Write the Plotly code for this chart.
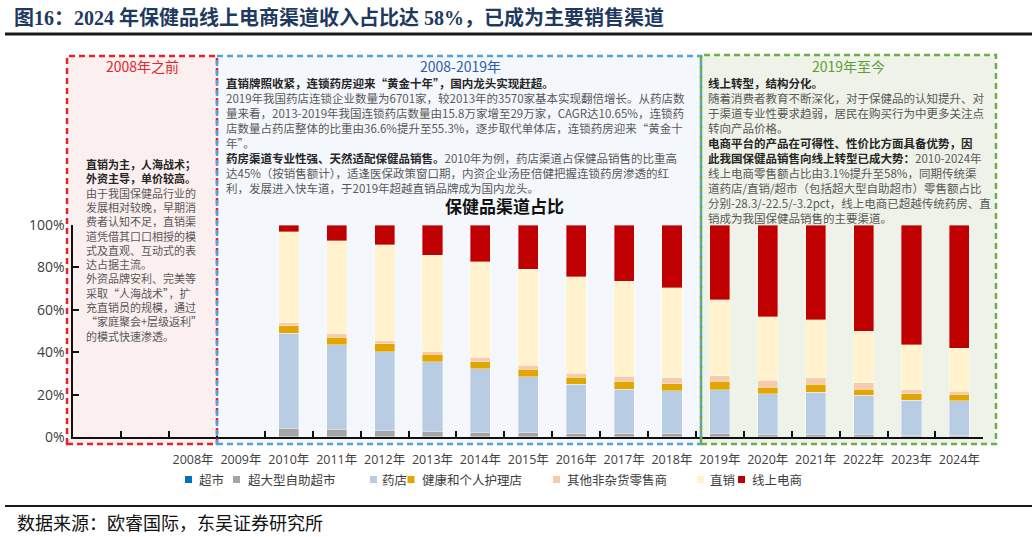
import plotly.graph_objects as go

W, H = 1032, 537
CJK = "Noto Sans CJK SC"
LAT = "Open Sans, Noto Sans CJK SC"

# ---------------- data ----------------
years = ["2010年", "2011年", "2012年", "2013年", "2014年", "2015年", "2016年", "2017年",
         "2018年", "2019年", "2020年", "2021年", "2022年", "2023年", "2024年"]
axis_categories = [" ", "  ", "2008年", "2009年"] + years

supermarket = [0.3, 0.3, 0.3, 0.3, 0.3, 0.3, 0.2, 0.2, 0.2, 0.2, 0.2, 0.2, 0.2, 0.2, 0.2]
hypermarket = [3.9, 3.5, 2.8, 2.5, 1.9, 1.9, 1.4, 1.4, 1.4, 1.4, 0.9, 0.9, 0.9, 0.6, 0.6]
pharmacy = [44.8, 39.8, 37.2, 32.7, 30.1, 26.3, 23.3, 21.1, 20.4, 20.9, 19.5, 20.2, 18.6, 16.7, 16.4]
health_store = [3.6, 3.5, 3.7, 3.6, 3.3, 3.6, 3.4, 3.8, 3.2, 3.8, 3.0, 3.6, 3.0, 3.1, 3.1]
other_retail = [1.4, 1.6, 1.5, 1.2, 2.2, 1.8, 1.8, 2.2, 2.8, 2.8, 3.2, 3.1, 3.0, 1.8, 1.3]
direct_sales = [42.9, 43.8, 45.1, 45.4, 44.9, 45.2, 45.6, 44.7, 42.4, 35.8, 29.9, 27.4, 24.2, 21.1, 20.4]
online = [3.1, 7.5, 9.4, 14.3, 17.3, 20.9, 24.3, 26.6, 29.6, 35.1, 43.3, 44.6, 50.1, 56.5, 58.0]

series_names = ["超市", "超大型自助超市", "药店", "健康和个人护理店", "其他非杂货零售商", "直销", "线上电商"]
series_values = [supermarket, hypermarket, pharmacy, health_store, other_retail, direct_sales, online]
series_colors = ["#0070C0", "#A5A5A5", "#B8CCE4", "#E3A600", "#F8CBAD", "#FFF2CC", "#C00000"]

y_tickvals = [0, 20, 40, 60, 80, 100]
y_ticktext = ["0%", "20%", "40%", "60%", "80%", "100%"]


def px(x):
    return x / W


def py(y):
    return 1 - y / H


fig = go.Figure()

# register every category (including empty ones) on the x axis
fig.add_trace(go.Scatter(x=axis_categories, y=[None] * len(axis_categories), mode="markers",
                         showlegend=False, hoverinfo="skip"))

for name, vals, col in zip(series_names, series_values, series_colors):
    fig.add_trace(go.Bar(x=years, y=vals, name=name, showlegend=False,
                         marker=dict(color=col, line=dict(color="rgba(255,255,255,0.6)", width=0.6))))

# ---------------- shapes ----------------
shapes = []


def rect(x0, y0, x1, y1, fill, line_col, dash="6px,4px", width=2.5, layer="below"):
    shapes.append(dict(type="rect", xref="paper", yref="paper", x0=px(x0), x1=px(x1),
                       y0=py(y1), y1=py(y0), fillcolor=fill,
                       line=dict(color=line_col, width=width, dash=dash), layer=layer))


# filled backgrounds
rect(67, 56, 217, 444, "#FBEFEF", "rgba(0,0,0,0)", width=0)
rect(217, 56, 701, 444, "#F4F8FC", "rgba(0,0,0,0)", width=0)
rect(701, 55, 996, 444, "#EEF2E8", "rgba(0,0,0,0)", width=0)
# dashed borders
rect(67, 56, 217, 444, "rgba(0,0,0,0)", "#E0262B", layer="above")
rect(217, 56, 701, 444, "rgba(0,0,0,0)", "#4FA3D6", layer="above")
rect(701, 55, 996, 444, "rgba(0,0,0,0)", "#6FAD45", layer="above")

# title rule and bottom rule
shapes.append(dict(type="line", xref="paper", yref="paper", x0=px(5), x1=1, y0=py(34), y1=py(34),
                   line=dict(color="#1a1a1a", width=3)))
shapes.append(dict(type="line", xref="paper", yref="paper", x0=px(5), x1=1, y0=py(506), y1=py(506),
                   line=dict(color="#1a1a1a", width=2)))

# ---------------- annotations ----------------
annotations = []


def text(x, y, s, size=12, color="#595959", xanchor="left", family=CJK, bold=False, yanchor="middle"):
    if bold:
        s = "<b>" + s + "</b>"
    annotations.append(dict(xref="paper", yref="paper", x=px(x), y=py(y), text=s, showarrow=False,
                            xanchor=xanchor, yanchor=yanchor, align="left",
                            font=dict(size=size, color=color, family=family)))


BODY = "#595959"
BOLD = "#262626"


def b(s):
    return "<b><span style='color:%s'>%s</span></b>" % (BOLD, s)


# main title
text(12, 17, "图16：2024 年保健品线上电商渠道收入占比达 58%，已成为主要销售渠道", size=20,
     color="#1F3A60", family="Liberation Serif, Noto Sans CJK SC", bold=True)

# section titles
text(142, 65.5, "2008年之前", size=14, color="#E0262B", xanchor="center")
text(460, 65.5, "2008-2019年", size=14, color="#2E5DA8", xanchor="center")
text(848, 65.5, "2019年至今", size=14, color="#5E9E36", xanchor="center")

# left box text
left_lines = [
    b("直销为主，人海战术；"),
    b("外资主导，单价较高。"),
    "由于我国保健品行业的",
    "发展相对较晚，早期消",
    "费者认知不足，直销渠",
    "道凭借其口口相授的模",
    "式及直观、互动式的表",
    "达占据主流。",
    "外资品牌安利、完美等",
    "采取“人海战术”，扩",
    "充直销员的规模，通过",
    "“家庭聚会+层级返利”",
    "的模式快速渗透。",
]
text(84, (163.3 + 336) / 2, "<br>".join(left_lines), size=11, color=BODY)

# middle box text
mid_lines = [
    b("直销牌照收紧，连锁药房迎来“黄金十年”，国内龙头实现赶超。"),
    "2019年我国药店连锁企业数量为6701家，较2013年的3570家基本实现翻倍增长。从药店数",
    "量来看，2013-2019年我国连锁药店数量由15.8万家增至29万家，CAGR达10.65%，连锁药",
    "店数量占药店整体的比重由36.6%提升至55.3%，逐步取代单体店，连锁药房迎来“黄金十",
    "年”。",
    b("药房渠道专业性强、天然适配保健品销售。") + "2010年为例，药店渠道占保健品销售的比重高",
    "达45%（按销售额计），适逢医保政策窗口期，内资企业汤臣倍健把握连锁药房渗透的红",
    "利，发展进入快车道，于2019年超越直销品牌成为国内龙头。",
]
text(224, (82.7 + 184.7) / 2 + 2, "<br>".join(mid_lines), size=11.5, color=BODY)

# right box text
right_lines = [
    b("线上转型，结构分化。"),
    "随着消费者教育不断深化，对于保健品的认知提升、对",
    "于渠道专业性要求趋弱，居民在购买行为中更多关注点",
    "转向产品价格。",
    b("电商平台的产品在可得性、性价比方面具备优势，因"),
    b("此我国保健品销售向线上转型已成大势：") + "2010-2024年",
    "线上电商零售额占比由3.1%提升至58%，同期传统渠",
    "道药店/直销/超市（包括超大型自助超市）零售额占比",
    "分别-28.3/-22.5/-3.2pct，线上电商已超越传统药房、直",
    "销成为我国保健品销售的主要渠道。",
]
text(706, (83.3 + 214) / 2 + 1.5, "<br>".join(right_lines), size=11.5, color=BODY)

# chart title
text(504, 205, "保健品渠道占比", size=17, color="#111111", xanchor="center", bold=True)

# custom legend (small squares + labels)
legend_marker_x = [188.5, 236.5, 373.5, 411, 556.5, 700.5, 741.5]
legend_text_x = [197, 246, 380, 420, 565, 708, 750]
for name, col, mx, tx in zip(series_names, series_colors, legend_marker_x, legend_text_x):
    shapes.append(dict(type="rect", xref="paper", yref="paper", x0=px(mx - 3.5), x1=px(mx + 3.5),
                       y0=py(483), y1=py(476), fillcolor=col, line=dict(width=0)))
    text(tx, 479.5, name, size=12.5, color="#404040")

# source
text(15, 522, "数据来源：欧睿国际，东吴证券研究所", size=18, color="#111111")

fig.update_layout(
    width=W, height=H,
    margin=dict(l=0, r=0, t=0, b=0),
    paper_bgcolor="white",
    plot_bgcolor="rgba(0,0,0,0)",
    barmode="stack",
    bargap=0.58,
    shapes=shapes,
    annotations=annotations,
    showlegend=False,
    xaxis=dict(domain=[px(73.3), px(983.3)], type="category", categoryorder="array",
               categoryarray=axis_categories, range=[-0.5, len(axis_categories) - 0.5],
               tickson="boundaries", ticks="inside", ticklen=6, tickwidth=2, tickcolor="#111111",
               showline=True, linecolor="#111111", linewidth=2, showgrid=False, zeroline=False,
               tickangle=0,
               tickfont=dict(size=12.5, family=LAT, color="#404040"), ticklabelstandoff=10,
               automargin=False, fixedrange=True),
    yaxis=dict(domain=[py(437.3), py(225)], range=[0, 100], tickvals=y_tickvals, ticktext=y_ticktext,
               ticks="inside", ticklen=6, tickwidth=2, tickcolor="#111111",
               showline=True, linecolor="#111111", linewidth=2, showgrid=False, zeroline=False,
               tickfont=dict(size=14, family=LAT, color="#404040"), ticklabelstandoff=4,
               automargin=False, fixedrange=True),
)

fig.write_html("out.html")
